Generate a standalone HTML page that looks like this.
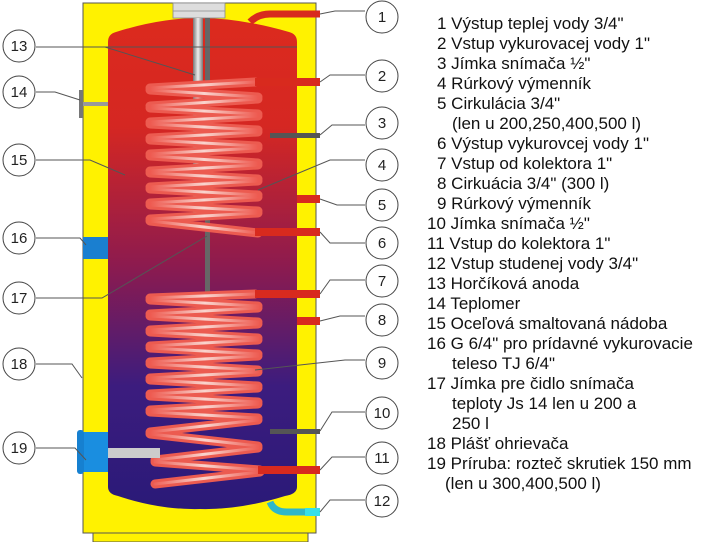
<!DOCTYPE html>
<html><head><meta charset="utf-8"><style>
html,body{margin:0;padding:0;background:#fff;width:702px;height:542px;overflow:hidden}
svg{display:block}
text{font-family:"Liberation Sans",Arial,sans-serif}
</style></head><body>
<svg width="702" height="542" viewBox="0 0 702 542" xmlns="http://www.w3.org/2000/svg">
<defs>
<linearGradient id="tank" x1="0" y1="0" x2="0" y2="1">
<stop offset="0" stop-color="#dc2a1e"/><stop offset="0.22" stop-color="#d52722"/>
<stop offset="0.5" stop-color="#8e1b4e"/><stop offset="0.75" stop-color="#3c1c7e"/>
<stop offset="1" stop-color="#2a1a78"/></linearGradient>
<linearGradient id="coil" x1="0" y1="0" x2="1" y2="0">
<stop offset="0" stop-color="#ee5a50"/><stop offset="0.5" stop-color="#fbe2dc"/><stop offset="1" stop-color="#ee5a50"/></linearGradient>
<linearGradient id="rod" x1="0" y1="0" x2="1" y2="0">
<stop offset="0" stop-color="#777"/><stop offset="0.5" stop-color="#eee"/><stop offset="1" stop-color="#777"/></linearGradient>
</defs>
<rect x="93" y="532" width="215" height="10" fill="#fff200" stroke="#555" stroke-width="1"/>
<rect x="83" y="3" width="233" height="530" fill="#fff200" stroke="#555" stroke-width="1"/>
<path d="M108 42 Q108 34 116 32 Q160 18 200 18 Q240 18 289 32 Q297 34 297 42 L297 487 Q297 494 285 496 Q240 510 200 509 Q160 510 118 496 Q108 494 108 487 Z" fill="url(#tank)"/>
<rect x="173" y="3" width="52" height="15" fill="#ddd" stroke="#888" stroke-width="0.8"/>
<line x1="173" y1="11" x2="225" y2="11" stroke="#888" stroke-width="0.8"/>
<path d="M250 22 Q258 14 270 14 L320 14" fill="none" stroke="#d82a1e" stroke-width="7"/>
<rect x="193" y="18" width="10" height="195" fill="url(#rod)"/>
<rect x="205" y="18" width="5" height="280" fill="#666"/>
<line x1="207.5" y1="300" x2="207.5" y2="365" stroke="#555" stroke-width="4" stroke-dasharray="6 3"/>
<g stroke-linecap="round" fill="none">
<g stroke="#ec5b50" stroke-width="9">
<path d="M255 82 L150 88 M150 90 L258 97 M258 99 L150 106 M150 108 L258 114 M258 116 L150 122 M150 124 L258 130 M258 132 L150 138 M150 140 L258 146 M258 148 L150 154 M150 156 L258 163 M258 165 L150 171 M150 173 L258 179 M258 181 L150 187 M150 189 L258 195 M258 197 L150 203 M150 205 L258 211 M258 213 L150 219 M150 221 L258 233"/>
</g>
<g stroke="url(#coil)" stroke-width="3" opacity="0.9">
<path d="M255 82 L150 88 M150 90 L258 97 M258 99 L150 106 M150 108 L258 114 M258 116 L150 122 M150 124 L258 130 M258 132 L150 138 M150 140 L258 146 M258 148 L150 154 M150 156 L258 163 M258 165 L150 171 M150 173 L258 179 M258 181 L150 187 M150 189 L258 195 M258 197 L150 203 M150 205 L258 211 M258 213 L150 219 M150 221 L258 233"/>
</g>
<g stroke="#ec5b50" stroke-width="9">
<path d="M255 294 L150 298 M150 300 L258 306 M258 308 L150 314 M150 316 L258 322 M258 324 L150 330 M150 332 L258 338 M258 340 L150 346 M150 348 L258 354 M258 356 L150 362 M150 364 L258 370 M258 372 L150 378 M150 380 L258 386 M258 388 L150 394 M150 396 L258 402 M258 404 L150 410 M150 412 L258 418 M258 420 L150 432 M150 434 L258 446 M258 448 L155 460 M155 462 L260 470 M260 472 L155 484"/>
</g>
<g stroke="url(#coil)" stroke-width="3" opacity="0.9">
<path d="M255 294 L150 298 M150 300 L258 306 M258 308 L150 314 M150 316 L258 322 M258 324 L150 330 M150 332 L258 338 M258 340 L150 346 M150 348 L258 354 M258 356 L150 362 M150 364 L258 370 M258 372 L150 378 M150 380 L258 386 M258 388 L150 394 M150 396 L258 402 M258 404 L150 410 M150 412 L258 418 M258 420 L150 432 M150 434 L258 446 M258 448 L155 460 M155 462 L260 470 M260 472 L155 484"/>
</g>
</g>
<rect x="255" y="78" width="65" height="8" fill="#d82a1e"/>
<rect x="255" y="228" width="65" height="8" fill="#d82a1e"/>
<rect x="255" y="290" width="65" height="8" fill="#d82a1e"/>
<rect x="258" y="466" width="62" height="8" fill="#d82a1e"/>
<rect x="297" y="195" width="23" height="8" fill="#d82a1e"/>
<rect x="297" y="317" width="23" height="8" fill="#d82a1e"/>
<rect x="270" y="133" width="50" height="5" fill="#555"/>
<rect x="270" y="429" width="50" height="5" fill="#555"/>
<path d="M270 502 Q274 512 287 512 L320 512" fill="none" stroke="#2fb7c8" stroke-width="7"/>
<rect x="305" y="508" width="15" height="8" fill="#36e0e8"/>
<rect x="83" y="102" width="25" height="4" fill="#999"/>
<rect x="79" y="90" width="4" height="28" fill="#777"/>
<rect x="83" y="237" width="25" height="22" fill="#1a7fd0"/>
<rect x="83" y="432" width="25" height="40" fill="#1a8ee0"/>
<rect x="77" y="430" width="7" height="44" rx="3" fill="#1680d0"/>
<rect x="108" y="448" width="52" height="10" fill="#ccc"/>
<g stroke="#555" stroke-width="1" fill="none">
<path d="M320 14 L335 11 L365 11"/>
<path d="M320 82 L330 75 L365 75"/>
<path d="M320 135 L332 125 L365 125"/>
<path d="M258 190 L330 160 L365 160"/>
<path d="M320 199 L337 205 L365 205"/>
<path d="M320 232 L330 243 L365 243"/>
<path d="M320 294 L330 280 L365 280"/>
<path d="M320 321 L340 316 L365 316"/>
<path d="M255 370 L345 360 L365 360"/>
<path d="M320 431 L332 412 L365 412"/>
<path d="M320 470 L332 457 L365 457"/>
<path d="M320 512 L330 500 L365 500"/>
<path d="M36 47 L105 47 L195 75 M105 47 L297 47"/>
<path d="M36 92 L55 92 L80 100"/>
<path d="M36 160 L90 160 L125 175"/>
<path d="M36 238 L80 238 L86 245"/>
<path d="M36 298 L102 298 L207 236"/>
<path d="M36 364 L72 364 L82 378"/>
<path d="M36 448 L75 448 L86 460"/>
</g>
<g fill="#fff" stroke="#444" stroke-width="1">
<circle cx="382" cy="17" r="16"/><circle cx="382" cy="76" r="16"/><circle cx="382" cy="123" r="16"/>
<circle cx="382" cy="165" r="16"/><circle cx="382" cy="205" r="16"/><circle cx="382" cy="243" r="16"/>
<circle cx="382" cy="281" r="16"/><circle cx="382" cy="320" r="16"/><circle cx="382" cy="363" r="16"/>
<circle cx="382" cy="413" r="16"/><circle cx="382" cy="458" r="16"/><circle cx="382" cy="501" r="16"/>
<circle cx="19" cy="46" r="16"/><circle cx="19" cy="92" r="16"/><circle cx="19" cy="160" r="16"/>
<circle cx="19" cy="238" r="16"/><circle cx="19" cy="298" r="16"/><circle cx="19" cy="364" r="16"/>
<circle cx="19" cy="448" r="16"/>
</g>
<g font-size="15" fill="#222" text-anchor="middle">
<text x="382" y="22">1</text><text x="382" y="81">2</text><text x="382" y="128">3</text>
<text x="382" y="170">4</text><text x="382" y="210">5</text><text x="382" y="248">6</text>
<text x="382" y="286">7</text><text x="382" y="325">8</text><text x="382" y="368">9</text>
<text x="382" y="418">10</text><text x="382" y="463">11</text><text x="382" y="506">12</text>
<text x="19" y="51">13</text><text x="19" y="97">14</text><text x="19" y="165">15</text>
<text x="19" y="243">16</text><text x="19" y="303">17</text><text x="19" y="369">18</text>
<text x="19" y="453">19</text>
</g>
<g font-size="17" fill="#111">
<text x="437" y="29">1 Výstup teplej vody 3/4"</text>
<text x="437" y="49">2 Vstup vykurovacej vody 1"</text>
<text x="437" y="69">3 Jímka snímača ½"</text>
<text x="437" y="89">4 Rúrkový výmenník</text>
<text x="437" y="109">5 Cirkulácia 3/4"</text>
<text x="452" y="129">(len u 200,250,400,500 l)</text>
<text x="437" y="149">6  Výstup vykurovcej vody 1"</text>
<text x="437" y="169">7  Vstup od kolektora 1"</text>
<text x="437" y="189">8 Cirkuácia 3/4" (300 l)</text>
<text x="437" y="209">9 Rúrkový výmenník</text>
<text x="427" y="229">10 Jímka snímača ½"</text>
<text x="427" y="249">11 Vstup do kolektora 1"</text>
<text x="427" y="269">12 Vstup studenej vody 3/4"</text>
<text x="427" y="289">13 Horčíková anoda</text>
<text x="427" y="309">14 Teplomer</text>
<text x="427" y="329">15 Oceľová smaltovaná nádoba</text>
<text x="427" y="349">16 G 6/4" pro prídavné vykurovacie</text>
<text x="452" y="369">teleso TJ 6/4"</text>
<text x="427" y="389">17 Jímka pre čidlo snímača</text>
<text x="452" y="409">teploty Js 14 len u 200 a</text>
<text x="452" y="429">250 l</text>
<text x="427" y="449">18 Plášť ohrievača</text>
<text x="427" y="469">19 Príruba: rozteč skrutiek 150 mm</text>
<text x="445" y="489">(len u 300,400,500 l)</text>
</g>
</svg>
</body></html>
